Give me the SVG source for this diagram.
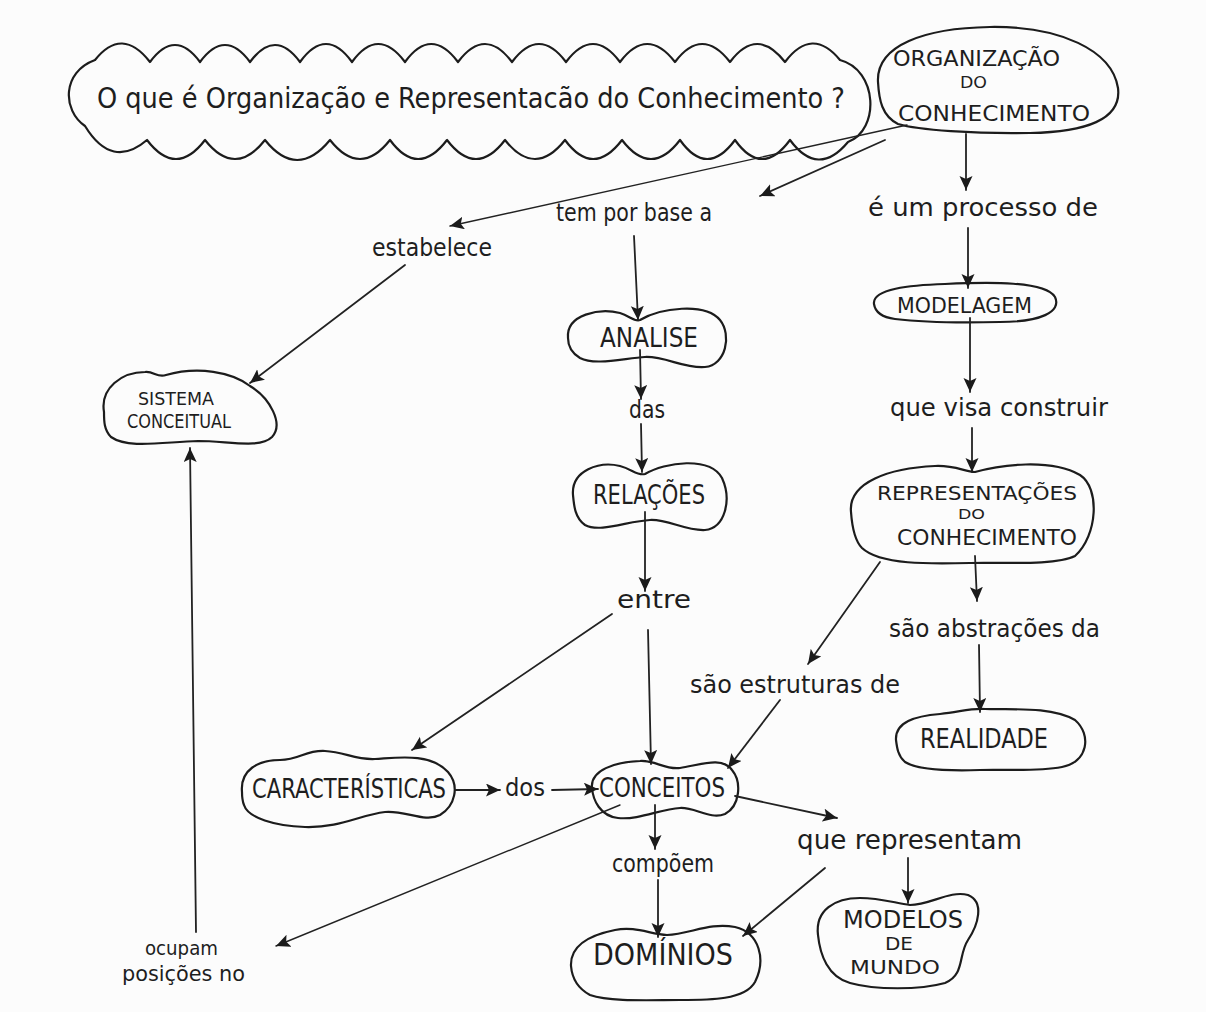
<svg xmlns="http://www.w3.org/2000/svg" width="1206" height="1012" viewBox="0 0 1206 1012">
  <defs>
    <marker id="tip" markerUnits="userSpaceOnUse" markerWidth="16" markerHeight="14" refX="14" refY="6.5" orient="auto">
      <path d="M0,0 L14,6.5 L0,13 L3,6.5 Z" fill="#1b1b1b"/>
    </marker>
    <style>
      .blob { fill: none; stroke: #1c1c1c; stroke-width: 2.2; stroke-linejoin: round; }
      .ln { fill: none; stroke: #222; stroke-width: 1.8; stroke-linecap: round; }
      .ln.thin { stroke-width: 1.4; }
      .t { font-family: "Liberation Sans Narrow", "DejaVu Sans Condensed", "Liberation Sans", sans-serif; fill: #1e1e1e; }
    </style>
  </defs>

  <rect width="1206" height="1012" fill="#fcfcfc"/>

  <!-- question cloud -->
  <g id="question">
    <path class="blob" d="M 95,60 Q 122,26 150,62 Q 175,28 200,62 Q 225,28 250,62 Q 275,28 300,62 Q 326,26 352,62 Q 378,26 405,62 Q 431,26 458,62 Q 485,26 512,62 Q 539,26 566,62 Q 593,26 620,62 Q 647,26 675,62 Q 702,26 730,62 Q 757,26 785,62 Q 812,26 840,60 C 878,70 880,130 848,142 Q 818,178 790,140 Q 762,178 735,140 Q 707,178 680,140 Q 651,178 622,140 Q 593,178 565,140 Q 535,178 505,140 Q 476,178 447,140 Q 418,178 390,140 Q 360,178 330,140 Q 297,180 265,140 Q 235,178 205,140 Q 176,178 147,140 Q 112,170 85,126 C 62,110 62,72 95,60 Z"/>
    <text class="t" x="97" y="108" font-size="28" textLength="748" lengthAdjust="spacingAndGlyphs">O que é Organização e Representacão do Conhecimento ?</text>
  </g>

  <g id="organizacao">
    <path class="blob" d="M 878,82 C 876,45 925,28 990,27 C 1060,26 1112,50 1118,88 C 1122,120 1085,132 1030,133 C 975,134 918,130 898,124 C 882,116 879,100 878,82 Z"/>
    <text class="t" x="893" y="66" font-size="22" textLength="167" lengthAdjust="spacingAndGlyphs">ORGANIZAÇÃO</text>
    <text class="t" x="960" y="88" font-size="16" textLength="27" lengthAdjust="spacingAndGlyphs">DO</text>
    <text class="t" x="898" y="121" font-size="22" textLength="192" lengthAdjust="spacingAndGlyphs">CONHECIMENTO</text>
  </g>

  <g id="sistema">
    <path class="blob" d="M 104,412 C 100,388 122,372 145,372 C 154,371 157,378 166,375 C 198,366 232,372 250,386 C 270,398 284,424 272,437 C 260,449 228,441 198,441 C 163,442 128,449 111,437 C 104,430 104,421 104,412 Z"/>
    <text class="t" x="138" y="405" font-size="18" textLength="76" lengthAdjust="spacingAndGlyphs">SISTEMA</text>
    <text class="t" x="127" y="428" font-size="19" textLength="104" lengthAdjust="spacingAndGlyphs">CONCEITUAL</text>
  </g>

  <g id="analise">
    <path class="blob" d="M 568,338 C 566,314 600,308 620,313 C 630,316 634,322 640,320 C 660,308 705,302 720,320 C 732,335 726,365 705,367 C 685,369 665,356 645,357 C 625,358 595,366 580,358 C 570,352 568,345 568,338 Z"/>
    <text class="t" x="600" y="347" font-size="27" textLength="98" lengthAdjust="spacingAndGlyphs">ANALISE</text>
  </g>

  <g id="relacoes">
    <path class="blob" d="M 573,495 C 571,470 600,461 620,466 C 632,469 637,476 645,474 C 665,462 710,456 722,478 C 732,500 725,528 705,530 C 685,531 668,519 650,520 C 628,521 600,533 585,525 C 575,518 574,506 573,495 Z"/>
    <text class="t" x="593" y="504" font-size="27" textLength="112" lengthAdjust="spacingAndGlyphs">RELAÇÕES</text>
  </g>

  <g id="modelagem">
    <path class="blob" d="M 874,304 C 872,289 910,285 945,284 C 990,282 1045,281 1055,297 C 1062,312 1040,322 1000,322 C 960,323 920,322 895,319 C 880,317 875,311 874,304 Z"/>
    <text class="t" x="897" y="313" font-size="22" textLength="135" lengthAdjust="spacingAndGlyphs">MODELAGEM</text>
  </g>

  <g id="representacoes">
    <path class="blob" d="M 851,512 C 848,482 890,468 935,466 C 955,465 965,472 975,472 C 1000,465 1050,458 1080,475 C 1100,488 1098,535 1075,556 C 1055,566 1000,562 970,563 C 930,564 880,565 862,548 C 854,540 852,526 851,512 Z"/>
    <text class="t" x="877" y="500" font-size="20" textLength="200" lengthAdjust="spacingAndGlyphs">REPRESENTAÇÕES</text>
    <text class="t" x="958" y="519" font-size="14" textLength="27" lengthAdjust="spacingAndGlyphs">DO</text>
    <text class="t" x="897" y="545" font-size="21" textLength="180" lengthAdjust="spacingAndGlyphs">CONHECIMENTO</text>
  </g>

  <g id="realidade">
    <path class="blob" d="M 896,740 C 895,722 915,716 940,714 C 960,712 970,708 985,709 C 1010,710 1050,706 1075,720 C 1092,735 1088,762 1062,767 C 1035,772 1005,769 980,770 C 950,771 918,770 905,762 C 898,756 897,748 896,740 Z"/>
    <text class="t" x="920" y="748" font-size="26" textLength="128" lengthAdjust="spacingAndGlyphs">REALIDADE</text>
  </g>

  <g id="caracteristicas">
    <path class="blob" d="M 242,792 C 240,770 258,760 280,760 C 300,760 305,750 325,751 C 345,752 355,760 375,759 C 395,758 430,752 448,772 C 460,786 455,806 440,815 C 425,823 405,810 385,812 C 360,815 340,828 305,827 C 275,826 248,818 244,805 C 242,800 242,796 242,792 Z"/>
    <text class="t" x="252" y="798" font-size="26" textLength="194" lengthAdjust="spacingAndGlyphs">CARACTERÍSTICAS</text>
  </g>

  <g id="conceitos">
    <path class="blob" d="M 592,788 C 590,770 615,762 640,761 C 655,760 665,770 680,768 C 700,765 722,756 732,770 C 742,782 740,806 725,814 C 710,820 695,807 680,808 C 660,809 640,820 618,818 C 600,816 593,800 592,788 Z"/>
    <text class="t" x="599" y="797" font-size="27" textLength="126" lengthAdjust="spacingAndGlyphs">CONCEITOS</text>
  </g>

  <g id="dominios">
    <path class="blob" d="M 571,966 C 570,945 590,935 615,930 C 635,926 650,934 667,935 C 690,934 710,922 735,927 C 760,933 766,960 755,982 C 745,1000 710,1000 680,1000 C 650,1000 610,1002 590,995 C 577,988 572,978 571,966 Z"/>
    <text class="t" x="593" y="965" font-size="30" textLength="140" lengthAdjust="spacingAndGlyphs">DOMÍNIOS</text>
  </g>

  <g id="modelos-de-mundo">
    <path class="blob" d="M 818,935 C 815,910 835,898 860,898 C 880,898 895,903 910,905 C 930,905 950,890 968,895 C 985,902 978,925 968,940 C 958,955 965,975 945,983 C 920,990 875,990 850,983 C 828,977 820,955 818,935 Z"/>
    <text class="t" x="843" y="928" font-size="24" textLength="120" lengthAdjust="spacingAndGlyphs">MODELOS</text>
    <text class="t" x="885" y="950" font-size="17" textLength="28" lengthAdjust="spacingAndGlyphs">DE</text>
    <text class="t" x="850" y="974" font-size="20" textLength="90" lengthAdjust="spacingAndGlyphs">MUNDO</text>
  </g>

  <!-- connectors -->
  <g id="connectors">
    <line class="ln thin" x1="907" y1="125" x2="450" y2="226" marker-end="url(#tip)"/>
    <line class="ln" x1="885" y1="140" x2="760" y2="196" marker-end="url(#tip)"/>
    <line class="ln" x1="966" y1="134" x2="966" y2="190" marker-end="url(#tip)"/>
    <line class="ln" x1="405" y1="265" x2="250" y2="383" marker-end="url(#tip)"/>
    <line class="ln" x1="634" y1="236" x2="638" y2="320" marker-end="url(#tip)"/>
    <line class="ln" x1="968" y1="228" x2="968" y2="288" marker-end="url(#tip)"/>
    <line class="ln" x1="640" y1="350" x2="641" y2="399" marker-end="url(#tip)"/>
    <line class="ln" x1="641" y1="424" x2="642" y2="472" marker-end="url(#tip)"/>
    <line class="ln" x1="645" y1="512" x2="645" y2="591" marker-end="url(#tip)"/>
    <line class="ln" x1="612" y1="614" x2="412" y2="750" marker-end="url(#tip)"/>
    <line class="ln" x1="648" y1="630" x2="651" y2="764" marker-end="url(#tip)"/>
    <line class="ln" x1="970" y1="318" x2="970" y2="392" marker-end="url(#tip)"/>
    <line class="ln" x1="972" y1="428" x2="972" y2="472" marker-end="url(#tip)"/>
    <line class="ln" x1="975" y1="556" x2="977" y2="601" marker-end="url(#tip)"/>
    <line class="ln" x1="979" y1="645" x2="980" y2="712" marker-end="url(#tip)"/>
    <line class="ln" x1="880" y1="562" x2="808" y2="664" marker-end="url(#tip)"/>
    <line class="ln" x1="780" y1="700" x2="728" y2="768" marker-end="url(#tip)"/>
    <line class="ln" x1="455" y1="790" x2="500" y2="790" marker-end="url(#tip)"/>
    <line class="ln" x1="552" y1="790" x2="598" y2="789" marker-end="url(#tip)"/>
    <line class="ln" x1="735" y1="796" x2="837" y2="818" marker-end="url(#tip)"/>
    <line class="ln" x1="908" y1="858" x2="908" y2="903" marker-end="url(#tip)"/>
    <line class="ln" x1="825" y1="868" x2="743" y2="936" marker-end="url(#tip)"/>
    <line class="ln" x1="655" y1="805" x2="655" y2="849" marker-end="url(#tip)"/>
    <line class="ln" x1="658" y1="880" x2="658" y2="937" marker-end="url(#tip)"/>
    <line class="ln thin" x1="620" y1="805" x2="276" y2="946" marker-end="url(#tip)"/>
    <line class="ln" x1="196" y1="932" x2="190" y2="448" marker-end="url(#tip)"/>
  </g>

  <!-- linking phrases -->
  <g id="link-labels">
    <text class="t" x="372" y="256" font-size="25" textLength="120" lengthAdjust="spacingAndGlyphs">estabelece</text>
    <text class="t" x="556" y="221" font-size="25" textLength="156" lengthAdjust="spacingAndGlyphs">tem por base a</text>
    <text class="t" x="868" y="216" font-size="25" textLength="230" lengthAdjust="spacingAndGlyphs">é um processo de</text>
    <text class="t" x="629" y="418" font-size="24" textLength="36" lengthAdjust="spacingAndGlyphs">das</text>
    <text class="t" x="890" y="416" font-size="25" textLength="218" lengthAdjust="spacingAndGlyphs">que visa construir</text>
    <text class="t" x="617" y="608" font-size="25" textLength="74" lengthAdjust="spacingAndGlyphs">entre</text>
    <text class="t" x="889" y="637" font-size="25" textLength="211" lengthAdjust="spacingAndGlyphs">são abstrações da</text>
    <text class="t" x="690" y="693" font-size="25" textLength="210" lengthAdjust="spacingAndGlyphs">são estruturas de</text>
    <text class="t" x="505" y="796" font-size="24" textLength="40" lengthAdjust="spacingAndGlyphs">dos</text>
    <text class="t" x="797" y="849" font-size="26" textLength="225" lengthAdjust="spacingAndGlyphs">que representam</text>
    <text class="t" x="612" y="872" font-size="24" textLength="102" lengthAdjust="spacingAndGlyphs">compõem</text>
    <text class="t" x="145" y="955" font-size="20" textLength="73" lengthAdjust="spacingAndGlyphs">ocupam</text>
    <text class="t" x="122" y="981" font-size="21" textLength="123" lengthAdjust="spacingAndGlyphs">posições no</text>
  </g>
</svg>
